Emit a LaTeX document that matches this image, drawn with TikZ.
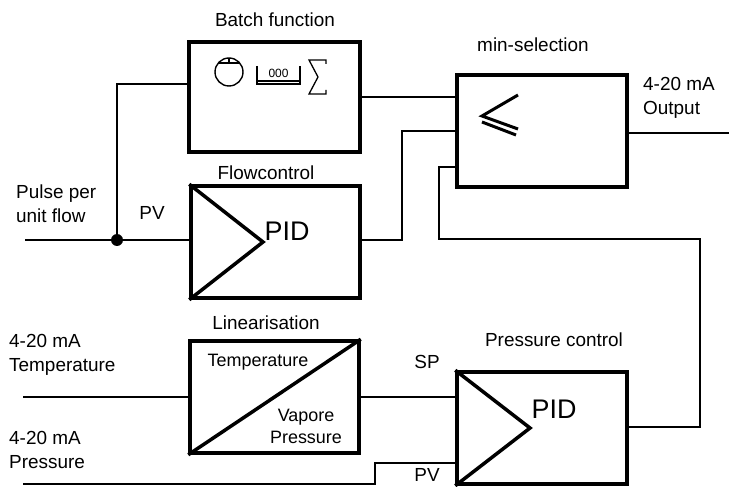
\documentclass[tikz,border=0pt]{standalone}
\usepackage{fontspec}
\setmainfont{Liberation Sans}
\begin{document}
\begin{tikzpicture}[x=1bp,y=-1bp,
  box/.style={draw, line width=3.5bp, inner sep=0pt},
  wire/.style={line width=1.8bp},
  lbl/.style={font=\fontsize{19}{24}\selectfont, inner sep=0pt, align=left},
  big/.style={font=\fontsize{27}{30}\selectfont, inner sep=0pt}]
\useasboundingbox (0,0) rectangle (729,487);
% boxes
\node[box, minimum width=171bp, minimum height=110bp] (batch) at (274.5,97) {};
\node[box, minimum width=169bp, minimum height=112bp] (flow) at (275.5,242) {};
\node[box, minimum width=169bp, minimum height=112bp] (lin) at (274.5,397) {};
\node[box, minimum width=170bp, minimum height=112bp] (minsel) at (542,131) {};
\node[box, minimum width=170bp, minimum height=112bp] (press) at (542,428) {};
% labels
\node[lbl] (tbatch) at (275,20) {Batch function};
\node[lbl] (tmin) at (533,45) {min-selection};
\node[lbl, anchor=west] (tout) at (643,98) {4-20 mA\\Output};
\node[lbl, anchor=west] (tpulse) at (16,204) {Pulse per\\unit flow};
\node[lbl] (tpv1) at (152,213) {PV};
\node[lbl] (tflow) at (266,173) {Flowcontrol};
\node[lbl] (tlin) at (266,323) {Linearisation};
\node[lbl, anchor=west] (ttemp) at (9,355) {4-20 mA\\Temperature};
\node[lbl, anchor=west] (tpres) at (9,450) {4-20 mA\\Pressure};
\node[lbl] (tsp) at (427,362) {SP};
\node[lbl] (tpc) at (554,340) {Pressure control};
\node[lbl] (tpv2) at (427,475) {PV};
% box contents
\node[big] (pid1) at (287,231) {PID};
\node[big] (pid2) at (554,409) {PID};
\node[lbl, font=\fontsize{18}{22}\selectfont] (tlt) at (258,362) {Temperature};
\node[lbl, align=center, font=\fontsize{18}{22}\selectfont] (tlv) at (306,426) {Vapore\\Pressure};
\draw[line width=3.5bp, line join=miter] (flow.north west) -- (263,242) -- (flow.south west);
\draw[line width=3.5bp, line join=miter] (press.north west) -- (530,428) -- (press.south west);
\draw[line width=3.5bp] (lin.south west) -- (lin.north east);
% min symbol
\draw[line width=3bp] (518,95) -- (482,116) -- (518,129);
\draw[line width=3bp] (482,122) -- (516,135);
% batch icons
\draw[line width=1.4bp] (229,72) circle (14);
\draw[line width=1.4bp] (218.5,63) -- (239.5,63);
\draw[line width=1.4bp] (229,58) -- (229,63);
\draw[line width=1.1bp] (257,66) -- (257,84) -- (300,84) -- (300,66);
\draw[line width=1.1bp] (257,81) -- (300,81);
\node[inner sep=0pt, font=\fontsize{12}{12}\selectfont] (cnt) at (278.5,73) {000};
\draw[line width=1.3bp, line join=miter] (326,64) -- (326,60) -- (309,60) -- (318,77) -- (309,94) -- (326,94) -- (326,90);
% wires
\coordinate (pin) at (25,240);
\coordinate (dot) at (117,240);
\draw[wire] (pin) -- (pin -| flow.west);
\fill (dot) circle (6);
\draw[wire] (dot) |- (batch.west |- 0,84);
\draw[wire] (batch.east |- 0,97) -- (minsel.west |- 0,97);
\coordinate (fo) at (402,240);
\draw[wire] (flow.east |- 0,240) -- (fo) |- (minsel.west |- 0,131);
\coordinate (m3) at (439,167);
\coordinate (rc) at (700,239);
\draw[wire] (minsel.west |- m3) -- (m3) |- (rc) |- (press.east |- 0,427);
\coordinate (out) at (729,133);
\draw[wire] (minsel.east |- out) -- (out);
\coordinate (tin) at (23,397);
\draw[wire] (tin) -- (tin -| lin.west);
\draw[wire] (lin.east |- tin) -- (press.west |- tin);
\coordinate (pin2) at (23,484);
\coordinate (pk) at (375,484);
\draw[wire] (pin2) -- (pk) |- (press.west |- 0,463);
\end{tikzpicture}
\end{document}
